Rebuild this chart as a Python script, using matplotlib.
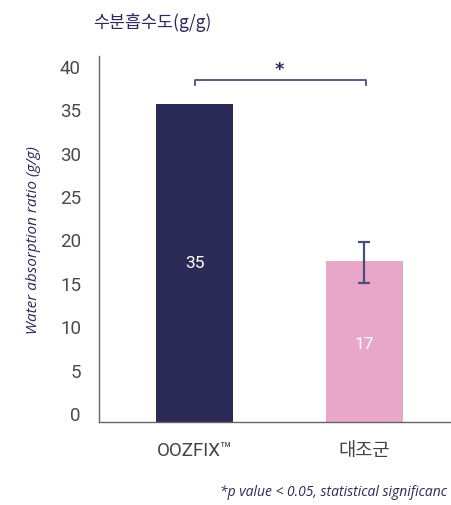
import matplotlib.pyplot as plt

# Data
groups = ['OOZFIX™', '대조군']
values = [35.6, 17.5]
err_low = [0, 2.5]
err_high = [0, 2.2]
bar_labels = ['35', '17']
yticks = [0, 5, 10, 15, 20, 25, 30, 35, 40]

navy = '#2c2a57'
pink = '#e8a7c9'
grey = '#444444'

fig = plt.figure(figsize=(4.51, 5.06), dpi=100, facecolor='white')
ax = fig.add_axes([0.2195, 0.164, 0.7805, 0.723])

base = -1.04
x = [0, 1]
ax.bar(x, [v - base for v in values], bottom=base, width=0.453,
       color=[navy, pink], zorder=2)

# error bar on control
ax.errorbar(x[1], values[1], yerr=[[err_low[1]], [err_high[1]]], fmt='none',
            ecolor='#4a4f7a', elinewidth=1.6, capsize=4, capthick=1.6, zorder=3)

# labels inside bars
ax.text(x[0], 17.3, bar_labels[0], ha='center', va='center', color='white',
        fontsize=12.5, family='Roboto', zorder=4)
ax.text(x[1], 8.0, bar_labels[1], ha='center', va='center', color='white',
        fontsize=12.5, family='Roboto', zorder=4)

# significance bracket
bx = [x[0] + 0.003, x[0] + 0.003, x[1] + 0.01, x[1] + 0.01]
by = [37.8, 38.4, 38.4, 37.8]
ax.plot(bx, by, color='#4a4f7a', lw=1.3, clip_on=False)
ax.text((x[0] + x[1]) / 2, 39.6, '*', ha='center', va='center',
        color=navy, fontsize=13, family='DejaVu Sans', fontweight='bold')

ax.set_xlim(-0.562, 1.509)
ax.set_ylim(base, 41.1)
ax.set_yticks(yticks)
ax.set_yticklabels([str(t) for t in yticks], fontsize=13.5, color='#4a4a4a',
                   family='Roboto')
ax.set_xticks(x)
ax.set_xticklabels(groups, fontsize=13.5, color=grey,
                   family=['Roboto', 'Noto Sans CJK KR'])
ax.tick_params(axis='y', length=0, pad=13)
ax.tick_params(axis='x', length=0, pad=14)

for s in ['top', 'right']:
    ax.spines[s].set_visible(False)
for s in ['left', 'bottom']:
    ax.spines[s].set_color('#666666')
    ax.spines[s].set_linewidth(1.0)

ax.set_ylabel('Water absorption ratio (g/g)', fontsize=11, color=navy,
              style='italic', family='Open Sans')
ax.yaxis.set_label_coords(-0.165, 0.5)

fig.text(93 / 451, 1 - 22 / 506, '수분흡수도(g/g)', fontsize=12.5, color='#2d2b5a',
         family=['Noto Sans CJK KR', 'DejaVu Sans'], ha='left', va='center')

fig.text(220 / 451, 1 - 493 / 506, '*p value < 0.05, statistical significanc',
         fontsize=10, color=navy, style='italic', family='Open Sans',
         ha='left', va='center')

fig.savefig('out.png', dpi=100, facecolor='white')
